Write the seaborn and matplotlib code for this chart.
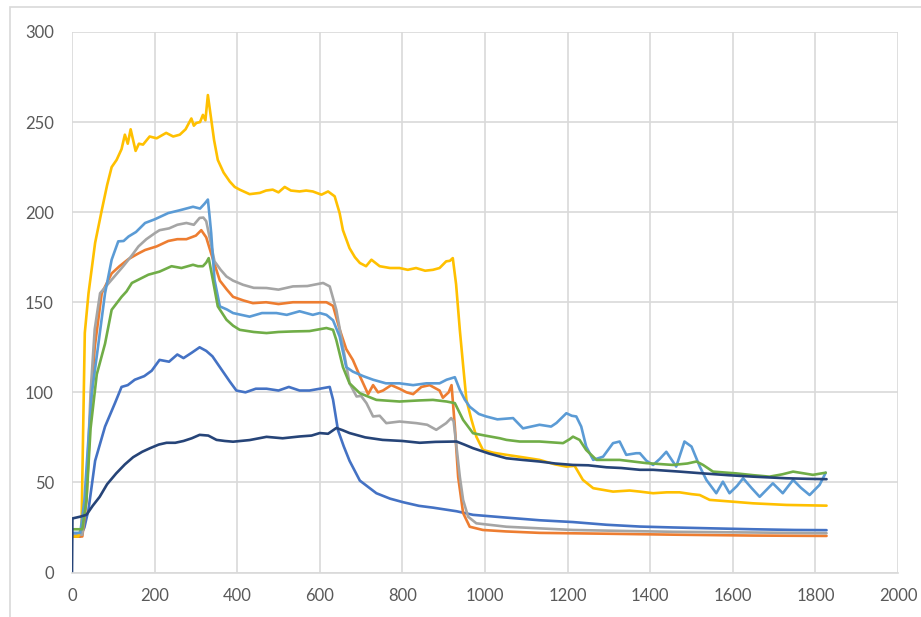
import matplotlib
matplotlib.use("Agg")
import matplotlib.pyplot as plt
import seaborn as sns
import pandas as pd
from matplotlib.patches import Rectangle

# series values (x = time, y = value)
blue_x = [0, 20, 30, 40, 56, 80, 104, 120, 135, 152, 175, 193, 212, 235, 255, 270, 290, 309, 325, 340,
          358, 382, 398, 420, 445, 471, 500, 525, 551, 575, 600, 624, 632, 644, 658, 672, 697, 737, 770, 802,
          840, 874, 931, 971, 1050, 1132, 1213, 1294, 1375, 1455, 1550, 1650, 1750, 1827]
blue_y = [20, 20, 25, 35, 62, 81, 94, 103, 104, 107, 109, 112, 118, 117, 121, 119, 122, 125, 123, 120,
          114, 106, 101, 100, 102, 102, 101, 103, 101, 101, 102, 103, 96, 79, 70, 62, 51, 44, 41, 39,
          37, 36, 34, 32, 30.5, 29, 28, 26.5, 25.5, 25, 24.5, 24, 23.6, 23.5]

orange_x = [0, 25, 35, 45, 55, 72, 96, 115, 137, 160, 177, 205, 233, 255, 277, 300, 313, 325, 341, 358,
            375, 390, 415, 438, 470, 500, 535, 575, 616, 632, 648, 664, 680, 697, 717, 729, 741, 753, 773, 793,
            810, 826, 846, 866, 890, 898, 912, 919, 927, 935, 947, 963, 995, 1050, 1132, 1300, 1455, 1650, 1827]
orange_y = [20, 20, 40, 90, 125, 155, 166, 170, 174, 177, 179, 181, 184, 185, 185, 187, 190, 186, 174, 162,
            157, 153, 151, 149.5, 150, 149, 150, 150, 150, 148, 135, 124, 118, 109, 99, 104, 100, 101, 104, 102,
            100, 99, 103, 104, 101, 97, 100, 104, 81, 53, 33, 25.4, 23.6, 22.8, 22, 21.5, 21, 20.5, 20.3]

gray_x = [0, 25, 35, 45, 55, 68, 96, 124, 145, 161, 180, 201, 212, 235, 255, 277, 295, 309, 318, 325,
          335, 345, 360, 374, 390, 414, 440, 471, 500, 535, 570, 608, 624, 640, 656, 672, 689, 700, 713, 729,
          745, 761, 793, 834, 860, 882, 906, 918, 924, 930, 939, 947, 959, 979, 1052, 1132, 1213, 1350, 1455,
          1650, 1827]
gray_y = [21, 21, 45, 100, 135, 155, 162.5, 170, 176, 181, 185, 188.4, 190, 191, 193, 194, 193, 196.8, 197, 195,
          184, 172.7, 168, 164.3, 162, 159.7, 158, 157.9, 157, 158.8, 159, 160.7, 158.8, 145.8, 125.4, 105, 97.7,
          98, 94, 86.6, 87, 82.9, 83.8, 82.9, 82, 79.2, 82.9, 85.7, 84, 71.8, 53.2, 40.3, 31, 27.3, 25.4, 24.5,
          23.6, 23, 22.6, 22.2, 21.8]

gold_x = [0, 15, 23, 31, 40, 56, 72, 85, 96, 108, 120, 128, 135, 142, 148, 154, 162, 172, 188, 205,
          228, 245, 261, 275, 289, 295, 301, 310, 317, 323, 329, 335, 344, 353, 367, 382, 394, 406, 430, 455,
          470, 486, 500, 515, 530, 551, 567, 583, 604, 620, 636, 648, 656, 664, 672, 685, 697, 712, 725, 745,
          770, 793, 813, 833, 855, 874, 890, 906, 915, 922, 930, 939, 947, 955, 967, 979, 995, 1020, 1052, 1090,
          1132, 1170, 1197, 1217, 1237, 1262, 1310, 1350, 1375, 1407, 1440, 1471, 1500, 1520, 1544, 1600, 1649,
          1730, 1827]
gold_y = [20, 20, 25, 133, 155, 183, 201, 215, 225, 229, 235, 243, 238, 246, 240, 234, 238, 237.5, 242, 241,
          244, 242, 243, 246, 252, 248, 249.5, 250, 254, 251, 265, 255, 240, 229, 222, 217, 214, 212.5, 210, 210.7,
          212, 212.5, 211, 214, 212, 211.5, 212, 211.5, 209.7, 211.5, 208.8, 199.5, 190, 185, 180, 175, 171.8, 170,
          173.6, 170, 169, 169, 168, 169, 167.5, 168, 169, 172.7, 173, 174.5, 160, 134.7, 115, 95.8, 85, 75.4, 68,
          66.5, 65.3, 64, 62.5, 60, 58.8, 59.2, 51.4, 46.8, 44.9, 45.5, 44.9, 44, 44.5, 44.5, 43.5, 43, 40.3, 39.3,
          38.4, 37.5, 37.1]

lightblue_x = [0, 20, 30, 40, 48, 64, 80, 96, 112, 125, 137, 155, 177, 200, 233, 260, 293, 310, 321, 329,
               333, 337, 345, 358, 375, 390, 410, 430, 460, 495, 520, 551, 583, 600, 616, 632, 648, 664, 680, 705,
               729, 760, 793, 826, 858, 890, 907, 927, 939, 951, 963, 985, 1003, 1030, 1068, 1092, 1132, 1160, 1173,
               1197, 1210, 1221, 1233, 1245, 1262, 1286, 1310, 1326, 1342, 1366, 1375, 1391, 1407, 1423, 1439, 1463,
               1483, 1500, 1520, 1536, 1560, 1576, 1592, 1610, 1625, 1645, 1665, 1697, 1721, 1746, 1765, 1786,
               1810, 1825]
lightblue_y = [22, 22, 40, 75, 99.5, 127, 155, 173.6, 183.8, 184, 186.5, 189, 194, 196, 199.5, 201, 203, 202, 204.7,
               207, 198, 188.4, 162.5, 147.7, 146, 144, 143, 142, 144, 144, 143, 145, 143, 144, 143, 140, 131, 114,
               111.5, 109, 107, 105, 105, 104, 105, 105, 107, 108.4, 101.4, 96, 92, 88, 86.6, 85, 85.7, 80, 82, 81,
               83, 88.4, 87, 86.6, 81, 69.9, 62.5, 64.3, 71.8, 72.7, 65.3, 66.2, 66.2, 62, 59.7, 63, 67, 58.8, 72.7,
               69.9, 58.8, 51.4, 44, 50.4, 44, 48, 52.3, 47, 42, 49.5, 44, 51.4, 47, 43, 48.6, 55.4]

green_x = [0, 25, 35, 45, 60, 80, 96, 120, 132, 145, 165, 185, 212, 241, 265, 293, 305, 317, 325, 331,
           341, 353, 374, 390, 406, 440, 471, 500, 535, 575, 616, 632, 640, 656, 672, 697, 737, 793, 840, 874,
           907, 927, 947, 971, 1000, 1036, 1052, 1084, 1132, 1189, 1205, 1213, 1229, 1245, 1270, 1326, 1391, 1455,
           1490, 1512, 1528, 1552, 1609, 1650, 1689, 1720, 1746, 1794, 1825]
green_y = [24, 24, 40, 80, 110, 127, 145.8, 153, 156, 160.7, 163, 165.3, 167, 170, 169, 170.8, 170, 170, 172, 174.5,
           162.5, 147.7, 140.3, 137, 134.7, 133.5, 132.9, 133.5, 133.8, 134, 135.7, 134.7, 129, 114, 105, 99.5, 95.8,
           94.9, 95.5, 95.8, 94.9, 94, 84.7, 77.3, 76, 74.5, 73.6, 72.7, 72.7, 71.8, 74, 75.4, 73.6, 68, 62.5, 62.5,
           60.7, 59.7, 60.5, 61.6, 59.7, 56, 55, 54, 53.2, 54.5, 56, 54.2, 55.4]

navy_x = [0, 1, 20, 35, 50, 67, 85, 107, 128, 148, 170, 189, 210, 229, 250, 270, 290, 309, 330, 350,
          370, 390, 430, 471, 510, 551, 580, 600, 620, 640, 655, 672, 710, 752, 800, 842, 880, 931, 950, 971,
          1010, 1052, 1090, 1132, 1170, 1213, 1250, 1294, 1330, 1375, 1407, 1471, 1528, 1590, 1649, 1730, 1780, 1827]
navy_y = [0, 30, 31, 32, 37, 42, 49, 55, 60, 64, 67, 69, 71, 72, 72, 73, 74.5, 76.4, 76, 73.6,
          73, 72.6, 73.5, 75.3, 74.5, 75.5, 76, 77.4, 77, 80.2, 79, 77.4, 75, 73.6, 73, 72, 72.5, 72.7, 71, 69,
          66, 63.4, 62.5, 61.6, 60.5, 59.7, 59.5, 58.4, 58, 57, 57, 56, 55, 54, 53.2, 52.3, 52, 51.8]

x_ticks = list(range(0, 2001, 200))
y_ticks = list(range(0, 301, 50))

# Excel default palette, in series order
series = [
    ("blue", blue_x, blue_y, "#4472C4"),
    ("orange", orange_x, orange_y, "#ED7D31"),
    ("gray", gray_x, gray_y, "#A5A5A5"),
    ("gold", gold_x, gold_y, "#FFC000"),
    ("lightblue", lightblue_x, lightblue_y, "#5B9BD5"),
    ("green", green_x, green_y, "#70AD47"),
    ("navy", navy_x, navy_y, "#264478"),
]

df = pd.concat([pd.DataFrame({"x": xs, "y": ys, "series": name}) for name, xs, ys, _ in series],
               ignore_index=True)
palette = {name: c for name, _, _, c in series}

sns.set_style("white")
plt.rcParams["font.family"] = ["Lato", "DejaVu Sans"]

fig = plt.figure(figsize=(9.21, 6.17), dpi=100)
ax = fig.add_axes([72 / 921, 44.5 / 617, 826 / 921, 540.5 / 617])

sns.lineplot(data=df, x="x", y="y", hue="series", hue_order=[s[0] for s in series],
             palette=palette, estimator=None, sort=False, linewidth=1.9, legend=False, ax=ax)

ax.set_xlim(0, 2000)
ax.set_ylim(0, 300)
ax.set_xticks(x_ticks)
ax.set_yticks(y_ticks)
ax.grid(True, color="#D9D9D9", linewidth=1.2)
ax.set_axisbelow(True)
for side in ["top", "right", "left"]:
    ax.spines[side].set_visible(False)
ax.spines["bottom"].set_color("#D9D9D9")
ax.spines["bottom"].set_linewidth(1.2)
ax.tick_params(axis="both", length=0, labelsize=12, colors="#595959")
ax.tick_params(axis="y", pad=13)
ax.tick_params(axis="x", pad=11)
ax.set_xlabel("")
ax.set_ylabel("")

# chart area border like Excel
fig.patches.append(Rectangle((10 / 921, -0.01), 1.0, 1 - 7 / 617 + 0.01, transform=fig.transFigure,
                             fill=False, edgecolor="#D9D9D9", linewidth=1.2))

fig.savefig("out.png", dpi=100)
plt.close(fig)
